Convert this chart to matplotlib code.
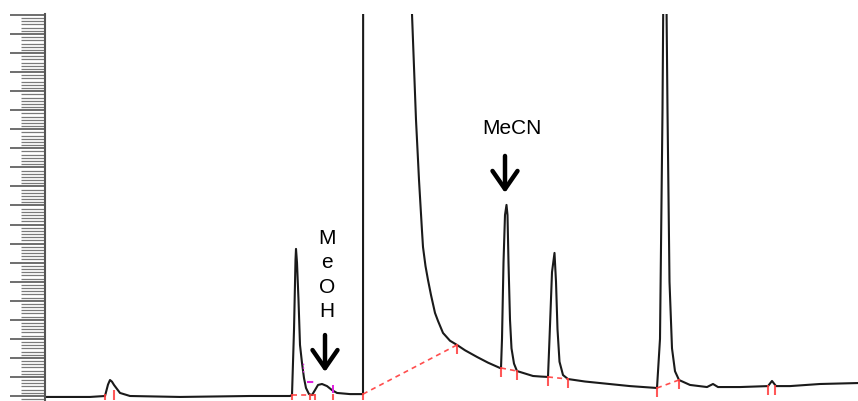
import matplotlib.pyplot as plt
from matplotlib.ticker import MultipleLocator, AutoMinorLocator

plt.rcParams['font.family'] = ['Liberation Sans', 'DejaVu Sans']

# chromatogram trace (time in min, signal in mV)
trace_t = [0.00, 0.45, 0.60, 0.63, 0.65, 0.67, 0.69, 0.75, 0.85, 1.35, 2.05, 2.45,
           2.47, 2.49, 2.505, 2.51, 2.52, 2.535, 2.55, 2.57, 2.59, 2.61, 2.64, 2.67,
           2.70, 2.73, 2.77, 2.82, 2.87, 2.92, 3.05, 3.18,
           3.19,
           3.67, 3.71, 3.73, 3.74, 3.77, 3.78, 3.805, 3.83, 3.86, 3.90, 3.93,
           3.98, 4.05, 4.12, 4.20, 4.32, 4.43, 4.55,
           4.56, 4.57, 4.585, 4.60, 4.615, 4.625, 4.635, 4.65, 4.665, 4.69, 4.72,
           4.80, 4.88, 4.96, 5.03, 5.045, 5.07, 5.095, 5.11, 5.125, 5.145, 5.18, 5.23,
           5.40, 5.55, 5.85, 6.12, 6.15, 6.175, 6.19, 6.205, 6.225, 6.245, 6.27, 6.30, 6.34,
           6.45, 6.62, 6.68, 6.73, 6.95, 7.23, 7.27, 7.31, 7.45, 7.75, 8.13]
trace_s = [-0.5, -0.5, 0.0, 6.0, 8.4, 7.5, 5.8, 1.6, 0.0, -0.5, 0.0, 0.0,
           0.5, 34.6, 71.4, 77.2, 70.0, 50.4, 26.8, 17.3, 9.4, 4.2, 1.0, 0.5,
           3.1, 5.8, 6.3, 5.2, 3.1, 1.6, 1.0, 1.0,
           1500.0,
           200.5, 144.9, 124.0, 113.4, 86.6, 78.2, 68.2, 60.9, 53.0, 43.6, 39.4,
           33.1, 29.0, 26.8, 24.0, 20.5, 17.5, 14.7,
           14.7, 30.0, 70.0, 95.0, 100.3, 95.0, 70.0, 40.0, 25.0, 17.0, 13.1,
           11.8, 10.5, 10.2, 10.0, 30.0, 65.0, 75.1, 60.0, 35.0, 18.0, 11.0, 8.9,
           7.6, 6.8, 5.2, 4.2, 30.0, 150.0, 260.0, 260.0, 150.0, 60.0, 25.0, 13.0, 8.4,
           5.8, 4.7, 6.3, 4.7, 4.7, 5.2, 7.9, 5.2, 5.2, 6.3, 6.8]

# integration marks (peak start / end points)
mark_t = [0.60, 0.69, 2.47, 2.65, 2.70, 2.88, 3.18, 4.12, 4.56, 4.72,
          5.03, 5.23, 6.12, 6.34, 7.23, 7.30]
mark_s = [0.3, 2.6, 0.5, 0.5, 0.5, 0.8, 1.0, 26.8, 14.7, 13.1,
          10.0, 8.9, 4.2, 8.4, 5.2, 5.2]

# dashed baselines drawn by the integrator
base_t0 = [2.47, 3.18, 4.56, 5.03, 6.12]
base_s0 = [0.5, 1.0, 14.7, 10.0, 4.2]
base_t1 = [2.70, 4.12, 4.72, 5.23, 6.34]
base_s1 = [0.5, 26.8, 13.1, 8.9, 8.4]

# Step 1: figure and axes
fig = plt.figure(figsize=(8.58, 4.01), dpi=100)
ax = fig.add_axes([45 / 858, 1 / 401, 813 / 858, 386 / 401])

# Step 2: the trace
ax.plot(trace_t, trace_s, color='#1a1a1a', lw=1.5, solid_joinstyle='round')

# Step 3: integration baselines and tick marks
for t0, s0, t1, s1 in zip(base_t0, base_s0, base_t1, base_s1):
    ax.plot([t0, t1], [s0, s1], color='#ff3b3b', lw=1.2, ls=(0, (3, 2.5)), alpha=0.9)
for t, s in zip(mark_t, mark_s):
    ax.vlines(t, s - 4.5, s + 0.5, color='#ff3b3b', lw=1.5, alpha=0.85)

# magenta markers around the MeOH bump
ax.plot([2.62, 2.72], [7.3, 7.3], color='#e020e0', lw=1.5, ls=(0, (3, 2)))
ax.vlines(2.88, 1.6, 5.8, color='#e020e0', lw=1.4)
ax.vlines(2.58, 12.6, 17.8, color='#e020e0', lw=1.0, ls=':')

# Step 4: labels and arrows
ax.text(4.665, 140.4, 'MeCN', fontsize=15, ha='center', va='center')
ax.annotate('', xy=(4.60, 106.6), xytext=(4.60, 126.0),
            arrowprops=dict(arrowstyle='->,head_width=0.45,head_length=0.65',
                            lw=3.2, color='black', mutation_scale=20,
                            shrinkA=0, shrinkB=0))
ax.text(2.82, 63.5, 'M\ne\nO\nH', fontsize=15, ha='center', va='center',
        multialignment='center', linespacing=1.35)
ax.annotate('', xy=(2.80, 12.6), xytext=(2.80, 32.0),
            arrowprops=dict(arrowstyle='->,head_width=0.45,head_length=0.65',
                            lw=3.2, color='black', mutation_scale=20,
                            shrinkA=0, shrinkB=0))

# Step 5: axis styling (only a ruler-like left axis)
ax.set_xlim(0, 8.13)
ax.set_ylim(-2.1, 200.5)
for side in ['top', 'right', 'bottom']:
    ax.spines[side].set_visible(False)
ax.spines['left'].set_color('#555555')
ax.spines['left'].set_linewidth(1.5)
ax.set_xticks([])
ax.yaxis.set_major_locator(MultipleLocator(10))
ax.yaxis.set_minor_locator(AutoMinorLocator(6))
ax.tick_params(axis='y', which='major', length=25, width=1.2, color='#555555',
               labelleft=False)
ax.tick_params(axis='y', which='minor', length=17, width=0.9, color='#7a7a7a')

fig.savefig('out.png', dpi=100)
